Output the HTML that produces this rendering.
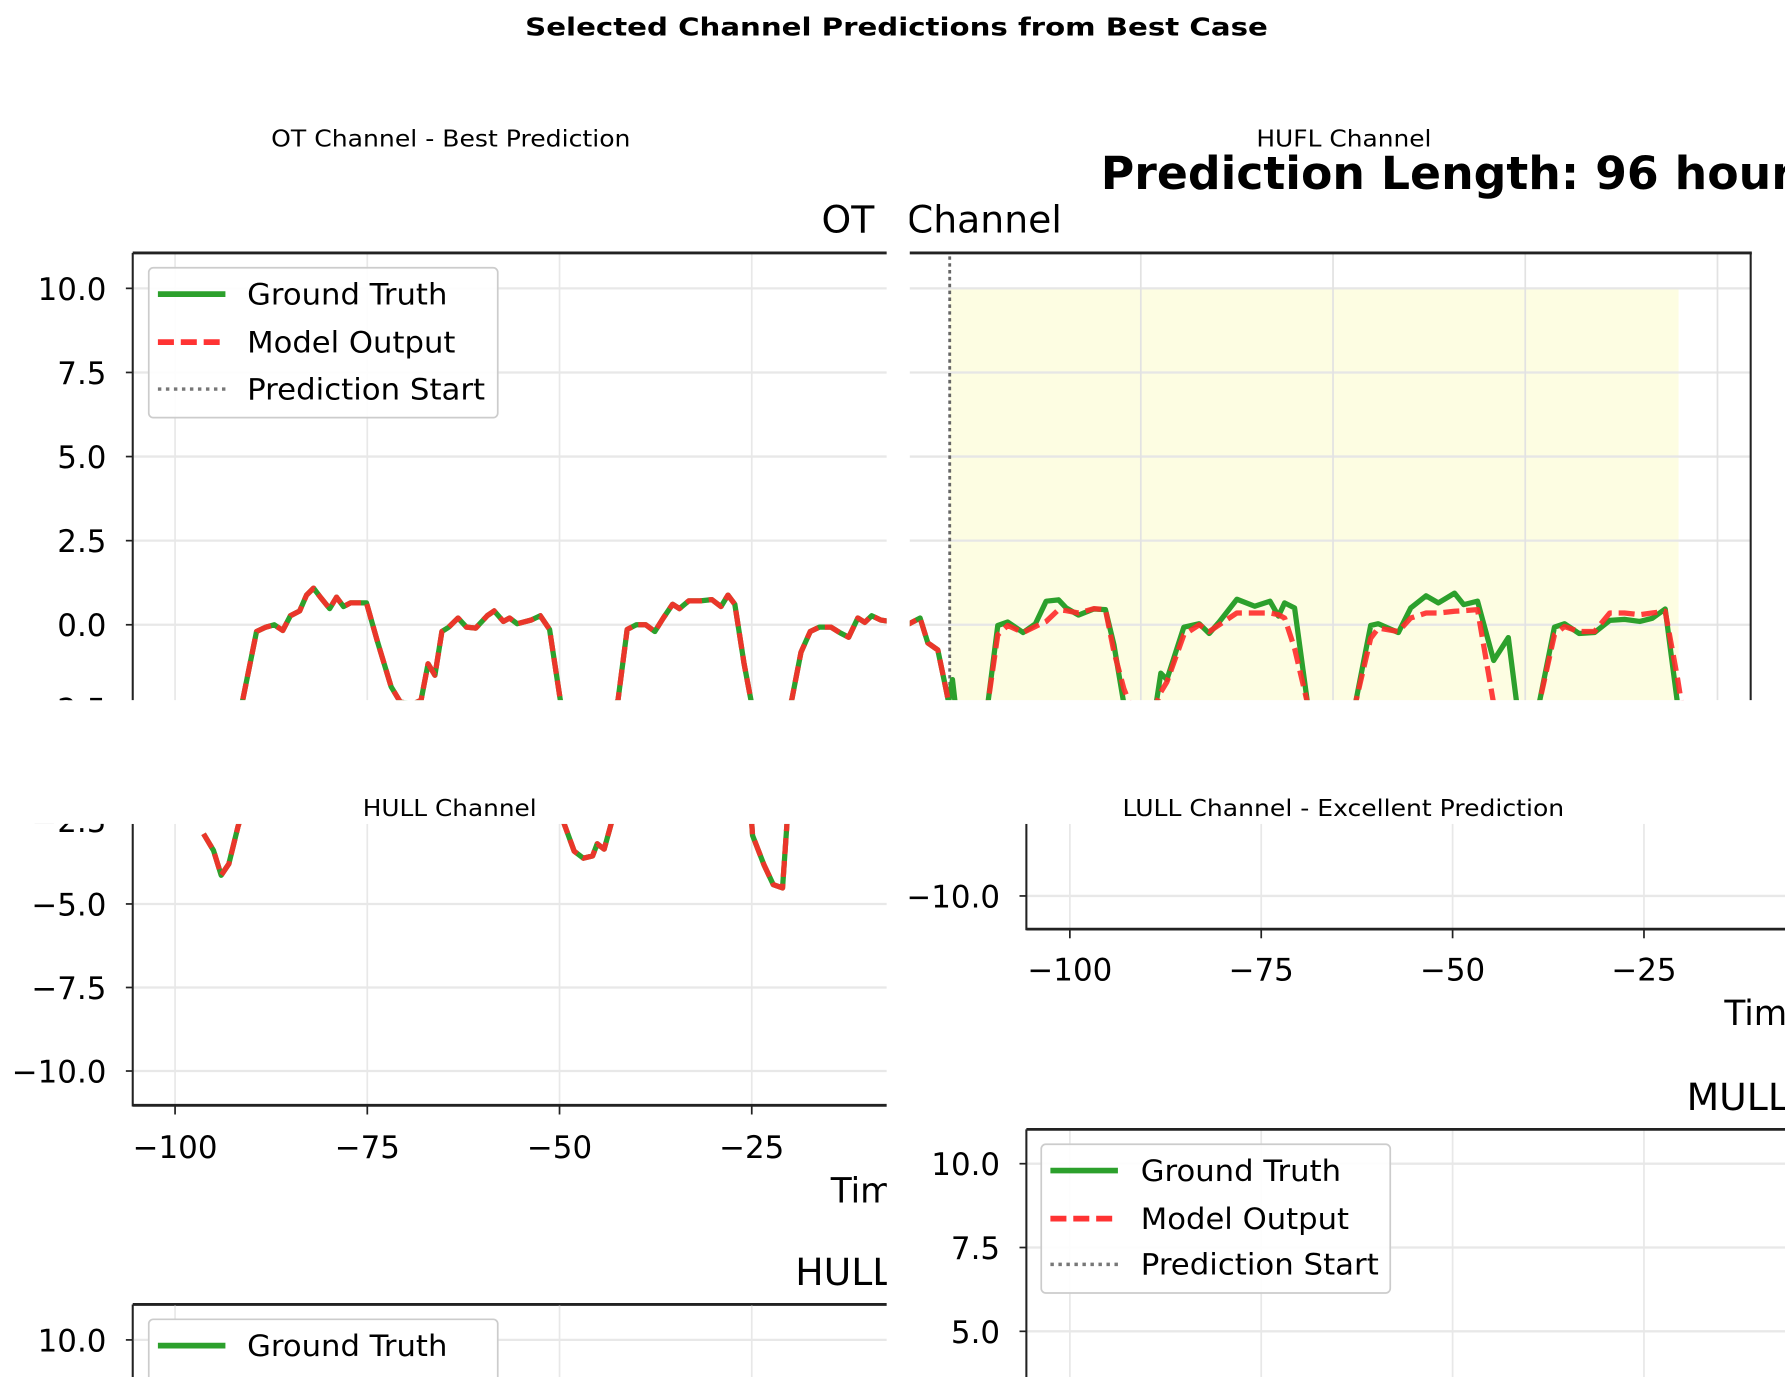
<!DOCTYPE html>
<html><head><meta charset="utf-8">
<style>
html,body{margin:0;padding:0;background:#fff;overflow:hidden;width:1785px;height:1377px;}
svg{display:block;font-family:"DejaVu Sans","Liberation Sans",sans-serif;}
</style></head>
<body>
<svg id="fig" xmlns="http://www.w3.org/2000/svg" width="1785" height="1377" viewBox="0 0 1560 1203.4">
<defs>
<clipPath id="cTL"><rect x="0" y="135" width="775" height="477"/></clipPath>
<clipPath id="cTLp"><rect x="117" y="222" width="658" height="390"/></clipPath>
<clipPath id="cTR"><rect x="795" y="135" width="765" height="477"/></clipPath>
<clipPath id="cTRp"><rect x="795" y="222" width="734" height="390"/></clipPath>
<clipPath id="cBL"><rect x="0" y="720" width="775" height="484"/></clipPath>
<clipPath id="cBLp"><rect x="117" y="720" width="658" height="245"/></clipPath>
<clipPath id="cBR"><rect x="795" y="720" width="765" height="484"/></clipPath>
</defs>
<rect width="1560" height="1204" fill="#fff"/>
<text x="459" y="31" font-size="22" font-weight="bold" textLength="649" lengthAdjust="spacingAndGlyphs">Selected Channel Predictions from Best Case</text>
<text x="237" y="128" font-size="20" textLength="314" lengthAdjust="spacingAndGlyphs">OT Channel - Best Prediction</text>
<text x="1098" y="128" font-size="20" textLength="153" lengthAdjust="spacingAndGlyphs">HUFL Channel</text>
<text x="317" y="713" font-size="20" textLength="152" lengthAdjust="spacingAndGlyphs">HULL Channel</text>
<text x="981" y="713" font-size="20" textLength="386" lengthAdjust="spacingAndGlyphs">LULL Channel - Excellent Prediction</text>

<!-- Top-left panel -->
<g id="tl" clip-path="url(#cTL)">
  <g id="tlGrid"></g>
  <text x="718" y="203" font-size="33">OT Channel</text>
  <g id="tlCurves" clip-path="url(#cTLp)"></g>
  <line x1="116" y1="221" x2="775" y2="221" stroke="#222" stroke-width="2.5"/>
  <line x1="116" y1="221" x2="116" y2="612" stroke="#222" stroke-width="1.8"/>
  <g>
    <rect x="130" y="234" width="305" height="131" rx="4" fill="#fff" fill-opacity="0.9" stroke="#ccc" stroke-width="1.5"/>
    <line x1="138" y1="257" x2="197" y2="257" stroke="#2ca02c" stroke-width="5"/>
    <text x="216" y="266" font-size="26" textLength="175" lengthAdjust="spacingAndGlyphs">Ground Truth</text>
    <line x1="138" y1="299" x2="197" y2="299" stroke="#ff3333" stroke-width="5" stroke-dasharray="14,6"/>
    <text x="216" y="308" font-size="26" textLength="182" lengthAdjust="spacingAndGlyphs">Model Output</text>
    <line x1="138" y1="340" x2="197" y2="340" stroke="#777" stroke-width="3" stroke-dasharray="3,4"/>
    <text x="216" y="349" font-size="26" textLength="208" lengthAdjust="spacingAndGlyphs">Prediction Start</text>
  </g>
</g>

<!-- Top-right panel -->
<g id="tr" clip-path="url(#cTR)">
  <rect x="830" y="252" width="637" height="360" fill="#fdfde2"/>
  <g id="trGrid"></g>
  <text x="962" y="165" font-size="40" font-weight="bold">Prediction Length: 96 hours</text>
  <text x="928" y="203" font-size="33" text-anchor="end">OT Channel</text>
  <line x1="830" y1="224" x2="830" y2="612" stroke="#666" stroke-width="2.5" stroke-dasharray="3,3"/>
  <g id="trCurves" clip-path="url(#cTRp)"></g>
  <line x1="795" y1="221" x2="1531" y2="221" stroke="#222" stroke-width="2.5"/>
  <line x1="1530" y1="221" x2="1530" y2="612" stroke="#222" stroke-width="1.8"/>
</g>

<!-- Bottom-left panel -->
<g id="bl" clip-path="url(#cBL)">
  <g id="blGrid"></g>
  <g id="blCurves" clip-path="url(#cBLp)"></g>
  <line x1="116" y1="720" x2="116" y2="967" stroke="#222" stroke-width="1.8"/>
  <line x1="116" y1="966" x2="775" y2="966" stroke="#222" stroke-width="2.5"/>
  <text x="726" y="1051" font-size="30">Time</text>
  <text x="695" y="1123" font-size="33">HULL Channel</text>
  <line x1="116" y1="1140" x2="775" y2="1140" stroke="#222" stroke-width="2.5"/>
  <line x1="116" y1="1140" x2="116" y2="1204" stroke="#222" stroke-width="1.8"/>
  <line x1="117" y1="1171" x2="775" y2="1171" stroke="#e8e8e8" stroke-width="2"/>
  <line x1="153" y1="1141" x2="153" y2="1204" stroke="#e8e8e8" stroke-width="1.5"/>
  <line x1="489" y1="1141" x2="489" y2="1204" stroke="#e8e8e8" stroke-width="1.5"/>
  <line x1="657" y1="1141" x2="657" y2="1204" stroke="#e8e8e8" stroke-width="1.5"/>
  <line x1="110" y1="1171" x2="116" y2="1171" stroke="#222" stroke-width="1.5"/>
  <text x="93" y="1181" font-size="27" text-anchor="end">10.0</text>
  <rect x="130" y="1153" width="305" height="120" rx="4" fill="#fff" stroke="#ccc" stroke-width="1.5"/>
  <line x1="138" y1="1176" x2="197" y2="1176" stroke="#2ca02c" stroke-width="5"/>
  <text x="216" y="1185" font-size="26" textLength="175" lengthAdjust="spacingAndGlyphs">Ground Truth</text>
</g>

<!-- Bottom-right panel -->
<g id="br" clip-path="url(#cBR)">
  <g id="brGrid"></g>
  <line x1="897" y1="720" x2="897" y2="813" stroke="#222" stroke-width="1.8"/>
  <line x1="897" y1="812" x2="1560" y2="812" stroke="#222" stroke-width="2.5"/>
  <text x="1507" y="896" font-size="30">Time</text>
  <text x="1474" y="970" font-size="33">MULL</text>
  <line x1="897" y1="987" x2="1560" y2="987" stroke="#222" stroke-width="2.5"/>
  <line x1="897" y1="987" x2="897" y2="1204" stroke="#222" stroke-width="1.8"/>
  <g>
    <rect x="910" y="1000" width="305" height="130" rx="4" fill="#fff" fill-opacity="0.9" stroke="#ccc" stroke-width="1.5"/>
    <line x1="918" y1="1023" x2="977" y2="1023" stroke="#2ca02c" stroke-width="5"/>
    <text x="997" y="1032" font-size="26" textLength="175" lengthAdjust="spacingAndGlyphs">Ground Truth</text>
    <line x1="918" y1="1065" x2="977" y2="1065" stroke="#ff3333" stroke-width="5" stroke-dasharray="14,6"/>
    <text x="997" y="1074" font-size="26" textLength="182" lengthAdjust="spacingAndGlyphs">Model Output</text>
    <line x1="918" y1="1105" x2="977" y2="1105" stroke="#777" stroke-width="3" stroke-dasharray="3,4"/>
    <text x="997" y="1114" font-size="26" textLength="208" lengthAdjust="spacingAndGlyphs">Prediction Start</text>
  </g>
</g>

<script>
// ---- data ----
const histT = [-96.3,-95,-94,-93,-91.8,-91.2,-89.4,-88.2,-87.1,-86,-85,-83.8,-82.9,-82,-81.1,-79.9,-79,-78.1,-77.2,-75.1,-73.7,-71.9,-70.7,-69,-68,-67.1,-66.2,-65.3,-64.4,-63.2,-62.1,-60.9,-59.4,-58.5,-57.3,-56.5,-55.5,-53.7,-52.5,-51.3,-49.9,-49.4,-48.1,-46.9,-45.7,-45.1,-44.2,-43.2,-42.4,-41.2,-40,-38.8,-37.6,-36.5,-35.3,-34.4,-33.2,-31.7,-30.2,-29,-28.1,-27.2,-26,-25.1,-24.9,-23.4,-22.2,-21,-20.4,-19.8,-18.6,-17.4,-16.2,-14.7,-13.5,-12.4,-11.2,-10.3,-9.4,-8.2,-5.1,-3.7,-2.7,-1.4,-0.4,0];
const histV = [-2.9,-3.4,-4.14,-3.8,-2.67,-2.24,-0.2,-0.07,0,-0.17,0.27,0.41,0.88,1.09,0.82,0.48,0.82,0.54,0.65,0.65,-0.48,-1.84,-2.3,-2.35,-2.24,-1.16,-1.5,-0.2,-0.07,0.2,-0.07,-0.1,0.27,0.41,0.1,0.2,0.03,0.14,0.27,-0.14,-2.24,-2.6,-3.42,-3.63,-3.56,-3.2,-3.36,-2.53,-2.24,-0.14,0,0,-0.2,0.2,0.61,0.48,0.71,0.71,0.75,0.54,0.88,0.61,-1.16,-2.24,-2.95,-3.84,-4.42,-4.52,-2.53,-2.24,-0.82,-0.2,-0.07,-0.07,-0.24,-0.37,0.2,0.07,0.27,0.14,0.03,0.2,-0.54,-0.75,-1.84,-2.3];
const futT = [0,0.5,1,3,5.1,6.4,7.7,9.7,11.3,12.7,14.3,15.3,16.9,18.9,20.4,21.5,22.8,24,26,27,27.6,28.4,30.6,32.6,33.9,35.2,37.5,39.8,41.8,42.9,43.7,45,46.7,49,52.9,54.9,55.9,58.5,60.1,62.1,63.7,65.8,67,68.8,70.9,72.8,73.9,76.8,78.8,80.1,82,84,86,87.9,89.9,91.5,93.2,94.8,95.5];
const futTruth = [-2.3,-1.63,-2.6,-3,-2.35,-0.02,0.08,-0.23,0.03,0.7,0.74,0.5,0.29,0.47,0.45,-0.59,-2.35,-3,-3,-2.35,-1.44,-1.63,-0.07,0.03,-0.26,0.08,0.76,0.55,0.7,0.26,0.65,0.5,-2.35,-3,-2.35,-0.02,0.03,-0.23,0.5,0.86,0.65,0.94,0.6,0.7,-1.06,-0.38,-2.35,-2.35,-0.07,0.03,-0.26,-0.23,0.13,0.16,0.1,0.19,0.47,-2.35,-3];
const futPred = [-2.3,-2.4,-2.6,-3,-2.35,-0.3,-0.02,-0.23,-0.05,0.1,0.45,0.42,0.35,0.48,0.45,-0.8,-1.9,-2.6,-3,-2.35,-2.0,-1.7,-0.3,0,-0.2,0,0.35,0.35,0.35,0.3,0.2,-0.7,-2.35,-3,-2.35,-0.4,-0.1,-0.2,0.2,0.35,0.35,0.4,0.42,0.45,-2.35,-3,-3,-2.35,-0.3,-0.05,-0.2,-0.2,0.35,0.35,0.3,0.35,0.4,-1.6,-2.6];
const yTicksTop = [10,7.5,5,2.5,0,-2.5];
const yTicksBL = [-2.5,-5,-7.5,-10];
const xTicks = [-100,-75,-50,-25];

// ---- axis functions ----
const NS = "http://www.w3.org/2000/svg";
const xL = t => 825 + 6.72*t;
const xR = t => 829 + 6.72*t;
const yTop = v => 546 - 29.4*v;
const yBL = v => 790 - 29.2*(v+5);
const xBR = t => 935 + 6.69*(t+100);
const yBR = v => 783 - 29.3*(v+10);
const fmt = v => (v<0?"\u2212":"") + Math.abs(v).toFixed(1);
const fmtI = v => (v<0?"\u2212":"") + Math.abs(v);

function mk(tag, attrs, parent){
  const e = document.createElementNS(NS, tag);
  for (const k in attrs) e.setAttribute(k, attrs[k]);
  parent.appendChild(e); return e;
}
function pathD(ts, vs, fx, fy){
  return ts.map((t,i)=>(i?"L":"M")+fx(t).toFixed(1)+","+fy(vs[i]).toFixed(1)).join("");
}

const tlG = document.getElementById("tlGrid");
yTicksTop.forEach(v=>{
  const y=yTop(v);
  const gl = mk("line",{x1:117,x2:775,y1:y,y2:y,stroke:"#e8e8e8","stroke-width":2},tlG);
  
  
  mk("line",{x1:110,x2:116,y1:y,y2:y,stroke:"#222","stroke-width":1.5},tlG);
  const tx = mk("text",{x:93,y:y+10,"font-size":27,"text-anchor":"end"},tlG);
  tx.textContent = fmt(v);
  
  
});
[-100,-75,-50,-25].forEach(t=>{
  mk("line",{x1:xL(t),x2:xL(t),y1:222,y2:612,stroke:"#e8e8e8","stroke-width":1.5},tlG);
});
const trG = document.getElementById("trGrid");
yTicksTop.forEach(v=>{
  const y=yTop(v);
  mk("line",{x1:795,x2:1530,y1:y,y2:y,stroke:"#e6e6e6","stroke-width":2},trG);
});
[25,50,75,100].forEach(t=>{
  mk("line",{x1:xR(t),x2:xR(t),y1:222,y2:612,stroke:"#e2e2e2","stroke-width":1.5},trG);
});

function drawSeries(parent, ts, vs, fx, fy, kind){
  const p = mk("path",{d:pathD(ts,vs,fx,fy),fill:"none","stroke-linejoin":"round"},parent);
  if(kind==="truth"){
    p.setAttribute("stroke","#2ca02c"); p.setAttribute("stroke-width","4.6");
    
  } else {
    p.setAttribute("stroke","#ff2a2a"); p.setAttribute("stroke-width","4.6");
    p.setAttribute("stroke-dasharray","14,6"); p.setAttribute("stroke-opacity","0.9");
    
  }
  
}
const allT = histT.concat(futT.slice(1));
const allTruth = histV.concat(futTruth.slice(1));
const allPred = histV.concat(futPred.slice(1));
const tlC = document.getElementById("tlCurves");
drawSeries(tlC, allT, allTruth, xL, yTop, "truth");
drawSeries(tlC, allT, allPred, xL, yTop, "pred");
const trC = document.getElementById("trCurves");
drawSeries(trC, allT, allTruth, xR, yTop, "truth");
drawSeries(trC, allT, allPred, xR, yTop, "pred");

const blG = document.getElementById("blGrid");
yTicksBL.forEach(v=>{
  const y=yBL(v);
  mk("line",{x1:117,x2:775,y1:y,y2:y,stroke:"#e8e8e8","stroke-width":2},blG);
  mk("line",{x1:110,x2:116,y1:y,y2:y,stroke:"#222","stroke-width":1.5},blG);
  const tx = mk("text",{x:93,y:y+10,"font-size":27,"text-anchor":"end"},blG);
  tx.textContent = fmt(v);
  
  
});
xTicks.forEach(t=>{
  const x=xL(t);
  mk("line",{x1:x,x2:x,y1:720,y2:965,stroke:"#e8e8e8","stroke-width":1.5},blG);
  mk("line",{x1:x,x2:x,y1:966,y2:974,stroke:"#222","stroke-width":1.5},blG);
  const tx = mk("text",{x:x,y:1012,"font-size":27,"text-anchor":"middle"},blG);
  tx.textContent = fmtI(t);
  
  
});
const blC = document.getElementById("blCurves");
drawSeries(blC, allT, allTruth, xL, yBL, "truth");
drawSeries(blC, allT, allPred, xL, yBL, "pred");

const brG = document.getElementById("brGrid");
[-10].forEach(v=>{
  const y=yBR(v);
  mk("line",{x1:898,x2:1560,y1:y,y2:y,stroke:"#e8e8e8","stroke-width":2},brG);
  mk("line",{x1:891,x2:897,y1:y,y2:y,stroke:"#222","stroke-width":1.5},brG);
  const tx = mk("text",{x:874,y:y+10,"font-size":27,"text-anchor":"end"},brG);
  tx.textContent = fmt(v);
  
  
});
xTicks.forEach(t=>{
  const x=xBR(t);
  mk("line",{x1:x,x2:x,y1:720,y2:811,stroke:"#e8e8e8","stroke-width":1.5},brG);
  mk("line",{x1:x,x2:x,y1:812,y2:820,stroke:"#222","stroke-width":1.5},brG);
  mk("line",{x1:x,x2:x,y1:988,y2:1204,stroke:"#e8e8e8","stroke-width":1.5},brG);
  const tx = mk("text",{x:x,y:857,"font-size":27,"text-anchor":"middle"},brG);
  tx.textContent = fmtI(t);
  
  
});
[10,7.5,5].forEach(v=>{
  const y = 1017 + (10-v)*29.3;
  mk("line",{x1:898,x2:1560,y1:y,y2:y,stroke:"#e8e8e8","stroke-width":2},brG);
  mk("line",{x1:891,x2:897,y1:y,y2:y,stroke:"#222","stroke-width":1.5},brG);
  const tx = mk("text",{x:874,y:y+10,"font-size":27,"text-anchor":"end"},brG);
  tx.textContent = fmt(v);
  
  
});
</script>
</svg>
</body></html>
